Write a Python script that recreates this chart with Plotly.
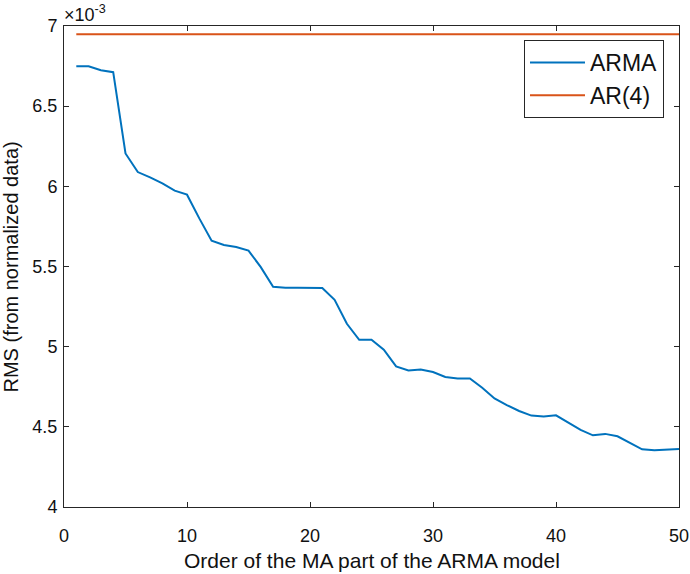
import plotly.graph_objects as go

orders = list(range(1, 51))
arma_rms = [6.749, 6.749, 6.724, 6.712, 6.205, 6.089, 6.056, 6.019, 5.973, 5.948,
            5.800, 5.661, 5.634, 5.622, 5.599, 5.496, 5.373, 5.367, 5.367, 5.367,
            5.366, 5.292, 5.143, 5.043, 5.043, 4.981, 4.877, 4.852, 4.858, 4.842,
            4.811, 4.802, 4.802, 4.744, 4.677, 4.636, 4.599, 4.570, 4.565, 4.572,
            4.528, 4.481, 4.447, 4.456, 4.441, 4.400, 4.360, 4.354, 4.358, 4.362]
ar4_rms = [6.948] * 50

x_ticks = [0, 10, 20, 30, 40, 50]
y_ticks = [4, 4.5, 5, 5.5, 6, 6.5, 7]
y_tick_labels = ["4", "4.5", "5", "5.5", "6", "6.5", "7"]

font = "Liberation Sans, Arial, sans-serif"
axcol = "#262626"
txtcol = "#111111"

fig = go.Figure()
fig.add_trace(go.Scatter(x=orders, y=arma_rms, mode="lines", name="ARMA",
                         line=dict(color="#0072BD", width=2)))
fig.add_trace(go.Scatter(x=orders, y=ar4_rms, mode="lines", name="AR(4)",
                         line=dict(color="#D95319", width=2)))

axis_common = dict(showline=True, linecolor=axcol, linewidth=1, mirror="ticks",
                   ticks="inside", ticklen=5, tickcolor=axcol, showgrid=False,
                   zeroline=False, automargin=False,
                   tickfont=dict(family=font, size=18, color=txtcol))
fig.update_xaxes(range=[0, 50], tickvals=x_ticks, ticklabelstandoff=12, **axis_common)
fig.update_yaxes(range=[4, 7], tickvals=y_ticks, ticktext=y_tick_labels,
                 ticklabelstandoff=2, **axis_common)

fig.add_annotation(x=0.5, y=-0.112, xref="paper", yref="paper", xanchor="center",
                   yanchor="middle", showarrow=False,
                   text="Order of the MA part of the ARMA model",
                   font=dict(family=font, size=21, color=txtcol))
fig.add_annotation(x=-0.0862, y=0.5, xref="paper", yref="paper", xanchor="center",
                   yanchor="middle", showarrow=False, textangle=-90,
                   text="RMS (from normalized data)",
                   font=dict(family=font, size=20, color=txtcol))
fig.add_annotation(x=0, y=1, xref="paper", yref="paper", xanchor="left", yanchor="bottom",
                   text="×10<sup>-3</sup>", showarrow=False, xshift=-2, yshift=-1,
                   font=dict(family=font, size=18, color=txtcol))

fig.update_layout(
    width=690, height=574,
    margin=dict(l=64, r=11, t=26, b=67, autoexpand=False),
    plot_bgcolor="white", paper_bgcolor="white",
    legend=dict(x=0.9756, y=0.971, xanchor="right", yanchor="top",
                bordercolor=axcol, borderwidth=1, bgcolor="white",
                itemwidth=55, font=dict(family=font, size=23, color=txtcol),
                tracegroupgap=0),
    showlegend=True,
)

fig.write_html("out.html", config={"displayModeBar": False},
               post_script="document.body.style.margin='0px';document.body.style.overflow='hidden';")
